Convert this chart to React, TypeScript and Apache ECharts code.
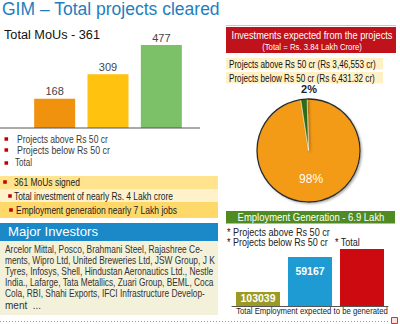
import React, { useEffect, useRef } from "react";
import * as echarts from "echarts";

const mouCategories = ["Projects above Rs 50 cr", "Projects below Rs 50 cr", "Total"];
const mouValues = [168, 309, 477];
const mouColors = ["#F1920F", "#FFC20E", "#7CC068"];

const pieNames = ["Projects above Rs 50 cr", "Projects below Rs 50 cr"];
const pieShares = [98, 2];
const pieColors = ["#F39A12", "#2F6C1F"];

const empCategories = ["Projects above Rs 50 cr", "Projects below Rs 50 cr", "Total"];
const empBarHeights = [14, 49, 57]; // heights as drawn in the picture (not proportional to labels)
const empLabels = ["103039", "59167", ""];
const empColors = ["#9B9A22", "#1E9BD2", "#CC0A10"];

const legendItems = ["Projects above Rs 50 cr", "Projects below Rs 50 cr", "Total"];
const highlights = [
  "361 MoUs signed",
  "Total investment of nearly Rs. 4 Lakh crore",
  "Employment generation nearly 7 Lakh jobs",
];
const investorLines = [
  "Arcelor Mittal, Posco, Brahmani Steel, Rajashree Ce-",
  "ments, Wipro Ltd, United Breweries Ltd, JSW Group, J K",
  "Tyres, Infosys, Shell, Hindustan Aeronautics Ltd., Nestle",
  "India., Lafarge, Tata Metallics, Zuari Group, BEML, Coca",
  "Cola, RBI, Shahi Exports, IFCI Infrastructure Develop-",
  "ment  ...",
];
const investmentRows = [
  "Projects above Rs 50 cr (Rs 3,46,553 cr)",
  "Projects below Rs 50 cr (Rs 6,431.32 cr)",
];

const FONT = '"Liberation Sans", Arial, sans-serif';

let mctx: CanvasRenderingContext2D | null = null;
function measure(text: string, size: number, weight: string) {
  if (!mctx) mctx = document.createElement("canvas").getContext("2d");
  if (!mctx) return text.length * size * 0.5;
  mctx.font = `${weight} ${size}px ${FONT}`;
  return mctx.measureText(text).width;
}

function txt(
  text: string,
  x: number,
  y: number,
  size: number,
  fill: string,
  width?: number,
  align: string = "left",
  weight: string = "normal"
) {
  let sx = 1;
  if (width) sx = width / measure(text, size, weight);
  return {
    type: "text",
    x,
    y,
    scaleX: sx,
    z: 20,
    style: {
      text,
      fontSize: size,
      fontFamily: FONT,
      fontWeight: weight,
      fill,
      align,
      verticalAlign: "middle",
      textAlign: align,
      textVerticalAlign: "middle",
    },
  };
}

function rect(x: number, y: number, w: number, h: number, fill: string, z = 1) {
  return { type: "rect", z, shape: { x, y, width: w, height: h }, style: { fill } };
}

export default function App() {
  const ref = useRef<HTMLDivElement>(null);
  useEffect(() => {
    if (!ref.current) return;
    const chart = echarts.init(ref.current, undefined, { renderer: "svg" });

    const legendY = [139, 150, 163];
    const legendW = [91, 93, 17];
    const legendX = [17, 17, 15];
    const hlY = [182, 196, 210];
    const hlX = [14, 14, 16];
    const hlW = [66, 159, 161];
    const hlBullet = [5, 10, 11];
    const hlBox = [
      [176, 13, "#FFE38E"],
      [189, 13, "#FFF2CB"],
      [202, 16, "#FFD86A"],
    ];
    const invY = [250, 261, 271.5, 282.5, 293.5, 305];
    const invW = [198, 210, 209, 209, 200, 0];

    const graphic: any[] = [
      txt("GIM \u2013 Total projects cleared", 2, 9, 18.5, "#1F7EBD", 218),
      txt("Total MoUs - 361", 4, 35, 12.5, "#111", 96),
      { type: "line", z: 5, shape: { x1: 0, y1: 128, x2: 200, y2: 128 }, style: { stroke: "#555", lineWidth: 1 } },
    ];
    legendItems.forEach((t, i) => {
      graphic.push(rect(4.5, legendY[i] - 1.8, 3.6, 3.6, "#C00000", 5));
      graphic.push(txt(t, legendX[i], legendY[i], 10.5, "#3a3a3a", legendW[i]));
    });
    highlights.forEach((t, i) => {
      const b = hlBox[i] as any[];
      graphic.push(rect(0, b[0], 218, b[1], b[2]));
      graphic.push(rect(hlBullet[i] - 1.8, hlY[i] - 1.8, 3.6, 3.6, "#C00000", 5));
      graphic.push(txt(t, hlX[i], hlY[i], 10.5, "#222", hlW[i]));
    });
    graphic.push(rect(0, 223, 218, 18, "#1B88C8"));
    graphic.push(txt("Major Investors", 8, 232, 13, "#fff", 90));
    graphic.push(rect(0, 241, 218, 74, "#F4F1DA"));
    investorLines.forEach((t, i) => {
      graphic.push(txt(t, 5, invY[i], 10, "#333", invW[i] || undefined));
    });

    // right side
    graphic.push({ type: "line", z: 1, shape: { x1: 226, y1: 25.5, x2: 396, y2: 25.5 }, style: { stroke: "#F6B0B0", lineWidth: 1 } });
    graphic.push(rect(226, 27, 170, 26, "#C0121B"));
    graphic.push(txt("Investments expected from the projects", 312, 35, 11, "#fff", 161, "center"));
    graphic.push(txt("(Total = Rs. 3.84 Lakh Crore)", 312, 47, 9.5, "#fff", 100, "center"));
    const invRowY = [58, 72];
    const invRowW = [147, 146];
    investmentRows.forEach((t, i) => {
      graphic.push(rect(226, invRowY[i], 157, 11.5, "#FFF0C6"));
      graphic.push(txt(t, 229, invRowY[i] + 5.8, 10.5, "#111", invRowW[i]));
    });
    graphic.push({
      type: "circle",
      z: 20,
      shape: { cx: 308.5, cy: 150.5, r: 51.5 },
      style: { fill: "none", stroke: "#2a2a2a", lineWidth: 1.3 },
    });
    graphic.push(rect(226, 211, 169, 12.5, "#4F8B22"));
    graphic.push(txt("Employment Generation - 6.9 Lakh", 311, 217.3, 11, "#fff", 147, "center"));
    graphic.push(txt("* Projects above Rs 50 cr", 227, 232, 10.5, "#222", 103));
    graphic.push(txt("* Projects below Rs 50 cr", 227, 242, 10.5, "#222", 101));
    graphic.push(txt("* Total", 335, 242, 10.5, "#222", 25));
    graphic.push(txt("Total Employment expected to be generated", 312, 311, 9.5, "#222", 152, "center"));

    // footer
    graphic.push({
      type: "line",
      z: 1,
      shape: { x1: 0, y1: 321.5, x2: 389, y2: 321.5 },
      style: { stroke: "#9a9a9a", lineWidth: 1, lineDash: [1, 2] },
    });
    graphic.push({
      type: "rect",
      z: 1,
      shape: { x: 391.5, y: 317.5, width: 6, height: 6 },
      style: { fill: "#FBE0E0", stroke: "#D83030", lineWidth: 1 },
    });

    const option: any = {
      animation: false,
      backgroundColor: "#fff",
      textStyle: { fontFamily: FONT },
      grid: [
        { left: 28, top: 41, width: 160, height: 87 },
        { left: 232, top: 246, width: 156, height: 60 },
      ],
      xAxis: [
        {
          gridIndex: 0,
          type: "category",
          data: mouCategories,
          axisLine: { show: false },
          axisTick: { show: false },
          axisLabel: { show: false },
        },
        {
          gridIndex: 1,
          type: "category",
          data: empCategories,
          axisLine: { show: true, lineStyle: { color: "#555", width: 1 } },
          axisTick: { show: false },
          axisLabel: { show: false },
        },
      ],
      yAxis: [
        { gridIndex: 0, type: "value", min: 0, max: 500, show: false, splitLine: { show: false } },
        { gridIndex: 1, type: "value", min: 0, max: 60, show: false, splitLine: { show: false } },
      ],
      series: [
        {
          type: "bar",
          xAxisIndex: 0,
          yAxisIndex: 0,
          barWidth: 41,
          data: mouValues.map((v, i) => ({ value: v, itemStyle: { color: mouColors[i] } })),
          label: {
            show: true,
            position: "top",
            distance: 2,
            color: "#444",
            fontSize: 11,
            fontFamily: FONT,
          },
        },
        {
          type: "bar",
          xAxisIndex: 1,
          yAxisIndex: 1,
          barWidth: 44,
          data: empBarHeights.map((v, i) => ({
            value: v,
            itemStyle: { color: empColors[i] },
            label: {
              show: empLabels[i] !== "",
              formatter: empLabels[i],
              position: "insideTop",
              distance: i === 0 ? 0 : 8,
            },
          })),
          label: {
            color: "#fff",
            fontSize: 10.5,
            fontWeight: "bold",
            fontFamily: FONT,
          },
        },
        {
          type: "pie",
          center: [308.5, 150.5],
          radius: 51.5,
          startAngle: 91.5,
          clockwise: true,
          avoidLabelOverlap: false,
          itemStyle: {
            borderColor: "#f6f0d0",
            borderWidth: 0.6,
            shadowBlur: 2,
            shadowOffsetX: 1.5,
            shadowOffsetY: 1.5,
            shadowColor: "rgba(0,0,0,0.35)",
          },
          labelLine: { show: false },
          data: pieShares.map((v, i) => ({
            name: pieNames[i],
            value: v,
            itemStyle: { color: pieColors[i] },
            label:
              i === 0
                ? { show: true, position: "inside", color: "#fff", fontSize: 12, formatter: "{c}%" }
                : {
                    show: true,
                    position: "inside",
                    color: "#222",
                    fontSize: 11,
                    fontWeight: "bold",
                    lineHeight: 11,
                    formatter: "  {c}%\n\n\n\n\n\n",
                  },
          })),
        },
      ],
      graphic,
    };
    chart.setOption(option);
    return () => chart.dispose();
  }, []);

  return (
    <div
      ref={ref}
      style={{ position: "absolute", left: 0, top: 0, width: 400, height: 324, background: "#fff" }}
    />
  );
}
